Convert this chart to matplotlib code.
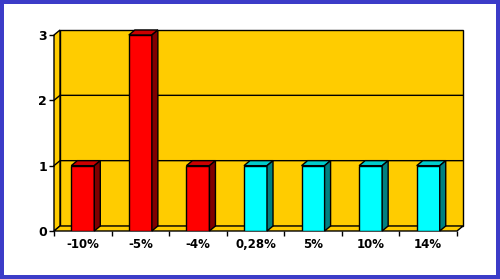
import matplotlib
matplotlib.use("Agg")
import matplotlib.pyplot as plt
from matplotlib.patches import Polygon, Rectangle

categories = ['-10%', '-5%', '-4%', '0,28%', '5%', '10%', '14%']
values = [1, 3, 1, 1, 1, 1, 1]
front_colors = ['#FF0000', '#FF0000', '#FF0000', '#00FFFF', '#00FFFF', '#00FFFF', '#00FFFF']
top_colors = ['#CC0000', '#CC0000', '#CC0000', '#00CCCC', '#00CCCC', '#00CCCC', '#00CCCC']
side_colors = ['#800000', '#800000', '#800000', '#008080', '#008080', '#008080', '#008080']
yticks = [0, 1, 2, 3]

W, H = 500, 279
fig = plt.figure(figsize=(W / 100, H / 100), dpi=100)
fig.patch.set_facecolor('#3C3CC8')
fig.add_artist(Rectangle((4 / W, 4 / H), 1 - 8 / W, 1 - 8 / H,
                         transform=fig.transFigure, facecolor='white',
                         edgecolor='none', zorder=-10))

# front plane in pixels: x 54..457, y 231 (0) .. 35 (3)
ax = fig.add_axes([54 / W, (H - 231) / H, 403 / W, 196 / H])
ax.set_facecolor('none')
n = len(categories)
x0, x1 = -0.5, n - 0.5
ymax = 3
ax.set_xlim(x0, x1)
ax.set_ylim(0, ymax)

# depth offset (6 px right, 5 px up) in data units
dx = 6 / (403 / n)
dy = 5 / (196 / ymax)

lw = 1.0
wall = '#FFCC00'
kw = dict(edgecolor='black', linewidth=lw, clip_on=False, joinstyle='miter')
ax.add_patch(Polygon([(x0 + dx, dy), (x1 + dx, dy), (x1 + dx, ymax + dy), (x0 + dx, ymax + dy)],
                     facecolor=wall, zorder=1, **kw))
ax.add_patch(Polygon([(x0, 0), (x0 + dx, dy), (x0 + dx, ymax + dy), (x0, ymax)],
                     facecolor=wall, zorder=1, **kw))
ax.add_patch(Polygon([(x0, 0), (x1, 0), (x1 + dx, dy), (x0 + dx, dy)],
                     facecolor=wall, zorder=1, **kw))
for v in yticks[1:-1]:
    ax.plot([x0, x0 + dx, x1 + dx], [v, v + dy, v + dy], color='black',
            linewidth=lw, zorder=2, clip_on=False)

bw = 0.40
xs = list(range(n))
ax.bar(xs, values, width=bw, color=front_colors, edgecolor='black',
       linewidth=lw, zorder=3)
for x, v, tc, sc in zip(xs, values, top_colors, side_colors):
    l, r = x - bw / 2, x + bw / 2
    ax.add_patch(Polygon([(l, v), (r, v), (r + dx, v + dy), (l + dx, v + dy)],
                         facecolor=tc, zorder=3, **kw))
    ax.add_patch(Polygon([(r, 0), (r + dx, dy), (r + dx, v + dy), (r, v)],
                         facecolor=sc, zorder=3, **kw))

for s in ax.spines.values():
    s.set_visible(False)

ax.set_yticks(yticks)
ax.set_yticklabels([str(t) for t in yticks], fontsize=9, fontweight='bold')
ax.tick_params(axis='y', direction='out', length=3.5, width=lw, pad=1.5)

ax.set_xticks([i - 0.5 for i in range(n + 1)])
ax.set_xticklabels([])
ax.set_xticks(xs, minor=True)
ax.set_xticklabels(categories, minor=True, fontsize=8.5, fontweight='bold')
ax.tick_params(axis='x', which='major', direction='out', length=3.5, width=lw)
ax.tick_params(axis='x', which='minor', length=0, pad=5)

fig.savefig('out.png', dpi=100)
